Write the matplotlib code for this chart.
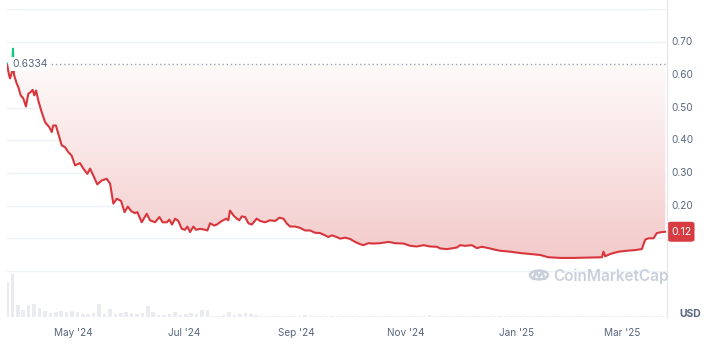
import numpy as np
import pandas as pd
import matplotlib
matplotlib.use("Agg")
import matplotlib.pyplot as plt
from matplotlib.colors import LinearSegmentedColormap
from matplotlib.patches import Rectangle, FancyBboxPatch, Circle

plt.rcParams['font.family'] = ['Inter', 'DejaVu Sans']

# price series: days since start, price in USD
start = pd.Timestamp("2024-03-25")
days = [0.0, 1.1, 1.7, 2.8, 3.3, 3.9, 5.4, 6.3, 7.6, 9.0, 10.5, 11.8, 13.1, 14.2, 15.1,
        16.1, 17.3, 19.2, 21.1, 23.4, 24.8, 25.6, 27.1, 28.4, 30.3, 32.1, 33.9, 35.8,
        37.7, 40.4, 42.3, 44.5, 46.0, 47.8, 50.0, 52.5, 55.2, 57.1, 58.9, 60.8, 63.2,
        65.1, 66.9, 68.8, 70.9, 72.2, 74.6, 77.4, 79.2, 82.0, 84.4, 86.2, 88.5, 89.9,
        91.4, 93.1, 94.9, 96.8, 98.6, 99.9, 101.4, 103.2, 104.7, 106.9, 109.7, 111.0,
        112.5, 114.7, 116.2, 119.0, 121.4, 122.6, 123.5, 125.4, 127.3, 128.7, 130.0,
        131.9, 133.7, 135.6, 138.3, 140.2, 142.9, 145.7, 148.5, 150.9, 153.1, 155.0,
        156.8, 159.6, 162.3, 165.1, 167.9, 170.6, 173.4, 176.2, 178.0, 179.9, 182.6,
        184.5, 187.3, 190.0, 192.8, 195.6, 197.4, 200.2, 203.0, 206.6, 211.3, 215.0,
        219.6, 223.3, 227.0, 230.7, 234.4, 238.1, 239.9, 243.6, 247.3, 249.2, 251.0,
        253.7, 257.5, 260.2, 263.0, 266.7, 270.4, 273.1, 278.7, 284.2, 289.8, 295.3,
        299.9, 306.4, 313.8, 323.0, 329.5, 330.4, 331.3, 334.1, 338.7, 343.3, 347.9,
        351.6, 353.5, 355.3, 358.1, 359.9, 362.7, 364.6]
prices = [0.634, 0.600, 0.589, 0.610, 0.680, 0.600, 0.573, 0.562, 0.537, 0.528, 0.503,
          0.542, 0.547, 0.554, 0.537, 0.552, 0.522, 0.486, 0.455, 0.440, 0.425, 0.445,
          0.445, 0.420, 0.384, 0.379, 0.364, 0.353, 0.323, 0.330, 0.313, 0.297, 0.313,
          0.292, 0.265, 0.277, 0.282, 0.267, 0.206, 0.221, 0.214, 0.180, 0.197, 0.183,
          0.177, 0.180, 0.149, 0.175, 0.155, 0.149, 0.165, 0.149, 0.149, 0.157, 0.142,
          0.160, 0.153, 0.129, 0.126, 0.136, 0.119, 0.136, 0.126, 0.129, 0.126, 0.124,
          0.146, 0.139, 0.142, 0.153, 0.160, 0.155, 0.185, 0.170, 0.160, 0.155, 0.167,
          0.165, 0.146, 0.142, 0.160, 0.153, 0.149, 0.155, 0.153, 0.163, 0.160, 0.145,
          0.136, 0.136, 0.132, 0.124, 0.124, 0.117, 0.116, 0.109, 0.104, 0.109, 0.104,
          0.099, 0.102, 0.098, 0.089, 0.082, 0.079, 0.085, 0.084, 0.085, 0.089, 0.085,
          0.084, 0.077, 0.075, 0.079, 0.075, 0.074, 0.069, 0.067, 0.070, 0.072, 0.079,
          0.077, 0.079, 0.070, 0.074, 0.070, 0.065, 0.062, 0.059, 0.055, 0.052, 0.049,
          0.042, 0.040, 0.040, 0.041, 0.042, 0.059, 0.045, 0.052, 0.059, 0.062, 0.064,
          0.067, 0.096, 0.100, 0.100, 0.116, 0.119, 0.120]

# volume bars (every 3 days, relative units)
vol_days = list(range(0, 366, 3))
volumes = [35, 43, 12, 7, 12, 13, 9, 6, 4, 5, 6, 5, 6, 5, 3, 3, 4, 13, 3, 8, 3, 4, 5,
           4, 3, 4, 11, 5, 2, 2, 3, 5, 2, 3, 4, 3, 7, 7, 1, 1, 2, 5, 2, 3, 4, 3, 2, 1,
           1, 1, 1, 1, 1, 1, 1, 2, 1, 1, 1, 1, 1, 1, 1, 1, 1, 1, 1, 1, 1, 1, 1, 1, 1,
           1, 1, 1, 1, 1, 2, 1, 1, 1, 1, 1, 1, 1, 1, 1, 1, 1, 1, 1, 1, 1, 1, 1, 1, 1,
           1, 1, 1, 1, 1, 1, 1, 1, 1, 1, 1, 1, 1, 1, 1, 1, 1, 1, 1, 1, 1, 1, 1, 1]

open_price = 0.6334
yticks = [0.20, 0.30, 0.40, 0.50, 0.60, 0.70]
xtick_dates = ["2024-05-01", "2024-07-01", "2024-09-01", "2024-11-01", "2025-01-01", "2025-03-01"]
xtick_labels = ["May '24", "Jul '24", "Sep '24", "Nov '24", "Jan '25", "Mar '25"]

red = '#d8363c'
green = '#16c784'
grey_txt = '#58667e'
grid_c = '#eff2f5'
wm_c = '#c9cfdb'

x = pd.to_datetime(start) + pd.to_timedelta(days, unit='D')
xv = matplotlib.dates.date2num(x)
x0 = matplotlib.dates.date2num(start)
x1 = matplotlib.dates.date2num(start + pd.Timedelta(days=365))

W, H = 710, 347
fig = plt.figure(figsize=(W / 100, H / 100), dpi=100)
ax = fig.add_axes([7 / W, (H - 271) / H, 659 / W, 261.6 / H])
axv = fig.add_axes([7 / W, (H - 317) / H, 659 / W, 46 / H])

ax.set_xlim(x0, x1)
ax.set_ylim(0, 0.80)
for v in np.arange(0, 0.81, 0.1):
    ax.axhline(v, color=grid_c, lw=1, zorder=0)

# gradient fill between open price and the line
cmap = LinearSegmentedColormap.from_list('g', ['#f3caca', '#f9e3e3', '#fefafa'])
grad = np.linspace(0, 1, 256).reshape(-1, 1)
im = ax.imshow(grad, cmap=cmap, aspect='auto', origin='lower',
               extent=[x0, x1, 0.04, open_price], zorder=1)
poly = ax.fill_between(xv, prices, open_price, color='none', lw=0)
im.set_clip_path(poly.get_paths()[0], transform=ax.transData)

# line: red below open, green above
l1, = ax.plot(xv, prices, color=red, lw=1.5, zorder=3, solid_joinstyle='round')
l1.set_clip_path(Rectangle((x0, 0), x1 - x0, open_price, transform=ax.transData))
l2, = ax.plot(xv, prices, color=green, lw=1.5, zorder=3)
l2.set_clip_path(Rectangle((x0, open_price), x1 - x0, 1, transform=ax.transData))

ax.plot([x0 + 22, x1], [open_price, open_price], color='#a0a7b4', lw=1,
        linestyle=(0, (1, 2)), zorder=2)
ax.text(x0 + 3, open_price, '0.6334', fontsize=7.5, color=grey_txt, va='center',
        ha='left', zorder=4, bbox=dict(boxstyle='square,pad=0.2', fc='white', ec='none'))

ax.set_xticks([])
ax.set_yticks([])
for s in ax.spines.values():
    s.set_visible(False)

# volume
vx = matplotlib.dates.date2num(pd.to_datetime(start) + pd.to_timedelta(vol_days, unit='D'))
axv.bar(vx, volumes, width=2.0, color='#e9ebf1', align='center')
axv.set_xlim(x0, x1)
axv.set_ylim(0, 46)
axv.set_yticks([])
axv.set_xticks(matplotlib.dates.date2num(pd.to_datetime(xtick_dates)))
axv.set_xticklabels(xtick_labels, fontsize=7.2, color=grey_txt)
axv.tick_params(axis='x', length=0, pad=8)
for s in axv.spines.values():
    s.set_visible(False)
axv.axhline(46, color=grid_c, lw=1)
axv.axhline(0, color=grid_c, lw=1)

# right axis line and labels
fig.add_artist(plt.Line2D([666.5 / W, 666.5 / W], [1.0, (H - 317) / H],
                          color='#e6e8ee', lw=1, transform=fig.transFigure))
ylab_tr = matplotlib.transforms.blended_transform_factory(fig.transFigure, ax.transData)
for t in yticks:
    ax.text(671 / W, t, f'{t:.2f}', transform=ylab_tr, fontsize=7.2,
            color=grey_txt, va='center', ha='left', clip_on=False)

# last price badge
yb = ax.transData.transform((0, prices[-1]))[1] / fig.dpi / (H / 100)
fig.patches.append(FancyBboxPatch((667.5 / W, yb - 10 / H), 27 / W, 20 / H,
                                  boxstyle='round,pad=0,rounding_size=0.006',
                                  fc='#d63c40', ec='none', transform=fig.transFigure,
                                  figure=fig))
fig.text(681 / W, yb, f'{prices[-1]:.2f}', color='white', fontsize=7.5,
         ha='center', va='center')

fig.text(690 / W, (H - 314) / H, 'USD', color=grey_txt, fontsize=7.5,
         fontweight='bold', ha='center', va='center')

# watermark
fig.text(553 / W, (H - 276) / H, 'CoinMarketCap', color=wm_c, fontsize=11,
         fontweight='semibold', ha='left', va='center')
fig.patches.append(Circle((539 / W, (H - 275) / H), 9 / W, fc='none', ec=wm_c,
                          lw=1.8, transform=fig.transFigure, figure=fig))
mx = np.array([533, 536, 539, 542, 545]) / W
my = (H - np.array([279, 272, 277, 272, 279])) / H
fig.add_artist(plt.Line2D(mx, my, color=wm_c, lw=1.8, transform=fig.transFigure,
                          solid_joinstyle='round', solid_capstyle='round'))

fig.savefig('out.png', dpi=100)
